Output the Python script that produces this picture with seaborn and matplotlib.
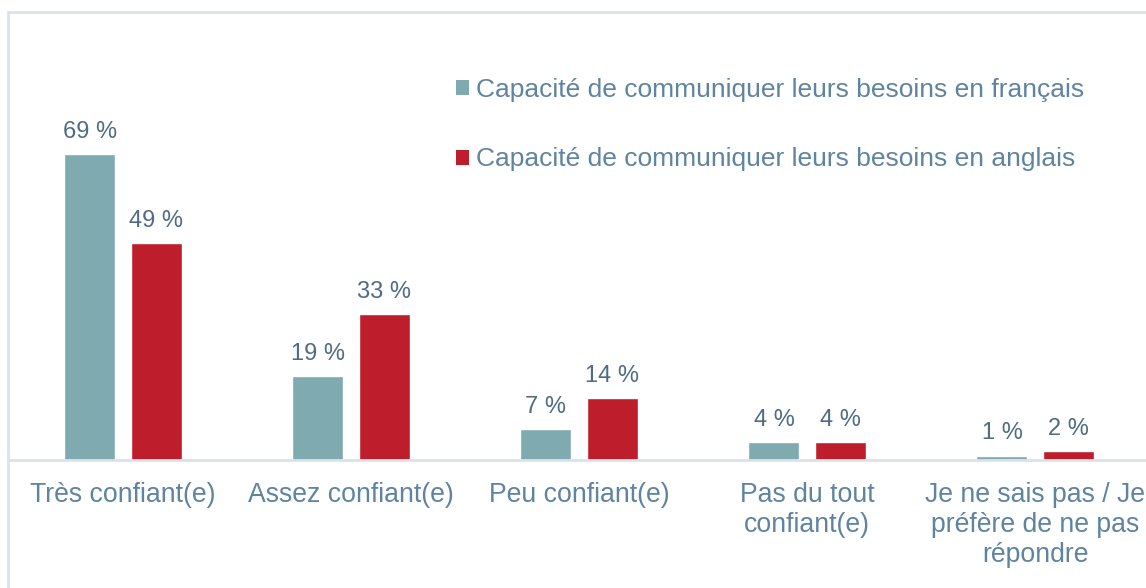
import pandas as pd
import matplotlib.pyplot as plt
import seaborn as sns
from matplotlib.patches import Patch, Rectangle

# Data
categories = ['Très confiant(e)', 'Assez confiant(e)', 'Peu confiant(e)',
              'Pas du tout\nconfiant(e)', 'Je ne sais pas / Je\npréfère de ne pas\nrépondre']
series_names = ['Capacité de communiquer leurs besoins en français',
                'Capacité de communiquer leurs besoins en anglais']
french_values = [69, 19, 7, 4, 1]
english_values = [49, 33, 14, 4, 2]

TEAL = '#7FAAAF'
RED = '#BE1E2B'
TEXT = '#5F84A0'
VALUE_TEXT = '#4F6C84'
LINE = '#D9E2EB'


def build_frame():
    """ Long-form table for seaborn. """
    rows = []
    for cat, fr, en in zip(categories, french_values, english_values):
        rows.append({'category': cat, 'series': series_names[0], 'value': fr})
        rows.append({'category': cat, 'series': series_names[1], 'value': en})
    return pd.DataFrame(rows)


def main():
    sns.set_style('white')
    plt.rcParams['font.family'] = ['Liberation Sans', 'DejaVu Sans']

    df = build_frame()
    fig = plt.figure(figsize=(11.46, 5.88), dpi=100)
    ax = fig.add_axes([9 / 1146, 128 / 588, 1140 / 1146, 448 / 588])

    sns.barplot(data=df, x='category', y='value', hue='series', order=categories,
                hue_order=series_names, palette=[TEAL, RED], width=0.58, gap=0.23,
                saturation=1, legend=False, ax=ax)

    for bar in ax.patches:
        h = bar.get_height()
        ax.annotate(f'{h:.0f} %', (bar.get_x() + bar.get_width() / 2, h),
                    xytext=(0, 8), textcoords='offset points', ha='center', va='bottom',
                    fontsize=17, color=VALUE_TEXT)

    ax.set_ylim(0, 101)
    ax.set_xlim(-0.5, 4.5)
    ax.set_xlabel('')
    ax.set_ylabel('')
    ax.set_yticks([])
    ax.set_xticks(range(len(categories)), categories, linespacing=1.2)
    ax.tick_params(axis='x', length=0, pad=16, labelsize=19.2, labelcolor=TEXT)
    for side in ['top', 'left', 'right']:
        ax.spines[side].set_visible(False)
    ax.spines['bottom'].set_color(LINE)
    ax.spines['bottom'].set_linewidth(2)

    handles = [Patch(facecolor=TEAL, edgecolor='none'), Patch(facecolor=RED, edgecolor='none')]
    fig.legend(handles, series_names, loc='upper left', bbox_to_anchor=(456 / 1146, 1 - 78 / 588),
               frameon=False, fontsize=19, labelcolor=TEXT, handlelength=0.5, handleheight=0.5,
               handletextpad=0.25, labelspacing=1.72, borderaxespad=0, borderpad=0)

    # light frame around the chart area (cut off at right and bottom)
    fig.patches.append(Rectangle((8 / 1146, -0.1), 1.2, 1.1 - 12 / 588, transform=fig.transFigure,
                                 fill=False, edgecolor=LINE, linewidth=2))

    fig.savefig('out.png', dpi=100)


if __name__ == '__main__':
    main()
